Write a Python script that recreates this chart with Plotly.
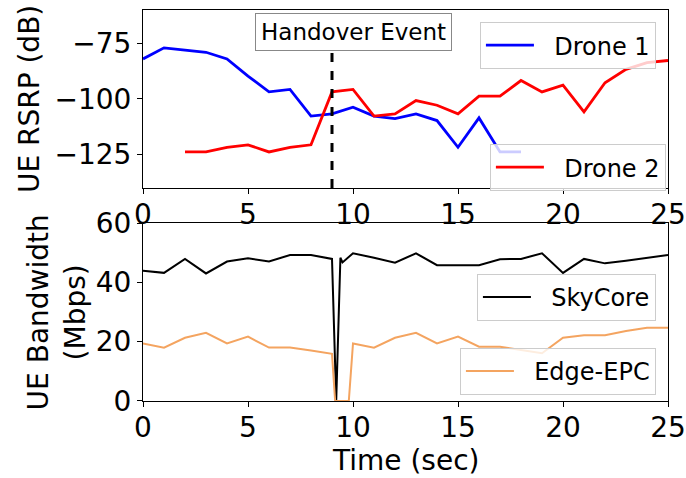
import plotly.graph_objects as go

# ---------------- data ----------------
t_drone1 = list(range(0, 19))
rsrp_drone1 = [-82, -77, -78, -79, -82, -89.7, -96.8, -95.7, -107.7, -106.7,
               -103.7, -107.7, -108.8, -106.7, -109.7, -121.7, -108.5, -123.8, -123.8]

t_drone2 = list(range(2, 26))
rsrp_drone2 = [-123.8, -123.8, -121.7, -120.6, -123.8, -121.7, -120.6, -96.8,
               -95.7, -107.7, -106.7, -100.7, -102.8, -106.7, -98.7, -98.7,
               -91.7, -96.8, -93.8, -105.8, -92.7, -86.7, -83.7, -82.7]

t_skycore = [0, 1, 2, 3, 4, 5, 6, 7, 8, 9, 9.2, 9.4, 9.5,
             10, 11, 12, 13, 14, 15, 16, 17, 18, 19, 20, 21, 22, 23, 24, 25]
bw_skycore = [43.9, 43.2, 47.9, 43.0, 47.0, 48.1, 47.0, 49.2, 49.2, 47.9, 0, 48.3, 46.7,
              49.8, 48.3, 46.6, 49.8, 45.8, 45.8, 45.8, 47.8, 47.9, 49.8, 43.2, 47.9,
              46.4, 47.3, 48.2, 49.2]

t_edge = [0, 1, 2, 3, 4, 5, 6, 7, 8, 9, 9.15, 9.8,
          10, 11, 12, 13, 14, 15, 16, 17, 18, 19, 20, 21, 22, 23, 24, 25]
bw_edge = [19.4, 18.0, 21.3, 23.0, 19.4, 21.7, 18.0, 18.0, 17.0, 15.9, 0, 0,
           19.4, 18.0, 21.3, 23.0, 19.4, 21.7, 18.3, 18.3, 17.2, 16.1, 21.3, 22.2,
           22.2, 23.6, 24.7, 24.7]

HANDOVER_T = 9
x_ticks = [0, 5, 10, 15, 20, 25]
rsrp_ticks = [-75, -100, -125]
bw_ticks = [0, 20, 40, 60]

FONT = "DejaVu Sans"
PAD = "\u00a0\u00a0"

fig = go.Figure()
fig.add_trace(go.Scatter(x=t_drone1, y=rsrp_drone1, mode="lines", name=PAD + "Drone 1",
                         line=dict(color="#0000ff", width=2.8), xaxis="x", yaxis="y",
                         legend="legend"))
fig.add_trace(go.Scatter(x=t_drone2, y=rsrp_drone2, mode="lines", name=PAD + "Drone 2",
                         line=dict(color="#ff0000", width=2.8), xaxis="x", yaxis="y",
                         legend="legend2"))
fig.add_trace(go.Scatter(x=t_skycore, y=bw_skycore, mode="lines", name=PAD + "SkyCore",
                         line=dict(color="black", width=2), xaxis="x2", yaxis="y2",
                         legend="legend3"))
fig.add_trace(go.Scatter(x=t_edge, y=bw_edge, mode="lines", name=PAD + "Edge-EPC",
                         line=dict(color="#f4a460", width=2), xaxis="x2", yaxis="y2",
                         legend="legend4"))

axis_common = dict(showgrid=False, zeroline=False, ticks="outside", ticklen=5,
                   tickwidth=1, tickcolor="black", showline=True, linecolor="black",
                   linewidth=1, mirror=True, automargin=False,
                   tickfont=dict(size=28, color="black"))

leg_common = dict(bgcolor="rgba(255,255,255,0.8)", bordercolor="#cccccc",
                  borderwidth=1, font=dict(size=24, color="black"),
                  xanchor="right", yanchor="top", itemwidth=48)

fig.update_layout(
    width=686, height=478,
    margin=dict(l=143, r=18, t=10, b=77, autoexpand=False),
    paper_bgcolor="white", plot_bgcolor="white",
    font=dict(family=FONT, color="black"),
    xaxis=dict(domain=[0, 1], anchor="y", range=[0, 25], tickvals=x_ticks,
               ticklabelstandoff=-4, **axis_common),
    yaxis=dict(domain=[0.5448, 1], anchor="x", range=[-140, -60], tickvals=rsrp_ticks,
               **axis_common),
    xaxis2=dict(domain=[0, 1], anchor="y2", range=[0, 25], tickvals=x_ticks,
                ticklabelstandoff=-4, **axis_common),
    yaxis2=dict(domain=[0, 0.4552], anchor="x2", range=[0, 60], tickvals=bw_ticks,
                **axis_common),
    legend=dict(x=0.977, y=0.969, **leg_common),
    legend2=dict(x=0.996, y=0.657, **leg_common),
    legend3=dict(x=0.977, y=0.325, **leg_common),
    legend4=dict(x=0.977, y=0.1355, **leg_common),
    showlegend=True,
)

fig.add_shape(type="line", xref="x", yref="y domain", x0=HANDOVER_T, x1=HANDOVER_T,
              y0=0, y1=1, line=dict(color="black", width=3, dash="dash"))

fig.add_annotation(x=10, y=-69.8, xref="x", yref="y", text="Handover Event",
                   showarrow=False, font=dict(size=23, color="black"),
                   bgcolor="white", bordercolor="#888888", borderwidth=1, borderpad=5)

fig.add_annotation(x=-0.215, y=0.7724, xref="paper", yref="paper", text="UE RSRP (dB)",
                   textangle=-90, showarrow=False, font=dict(size=28, color="black"),
                   xanchor="center", yanchor="middle")
fig.add_annotation(x=-0.165, y=0.2276, xref="paper", yref="paper",
                   text="UE Bandwidth<br>(Mbps)",
                   textangle=-90, showarrow=False, font=dict(size=28, color="black"),
                   xanchor="center", yanchor="middle")
fig.add_annotation(x=0.5, y=-0.151, xref="paper", yref="paper", text="Time (sec)",
                   showarrow=False, font=dict(size=28, color="black"),
                   xanchor="center", yanchor="middle")

fig.write_html("out.html")
